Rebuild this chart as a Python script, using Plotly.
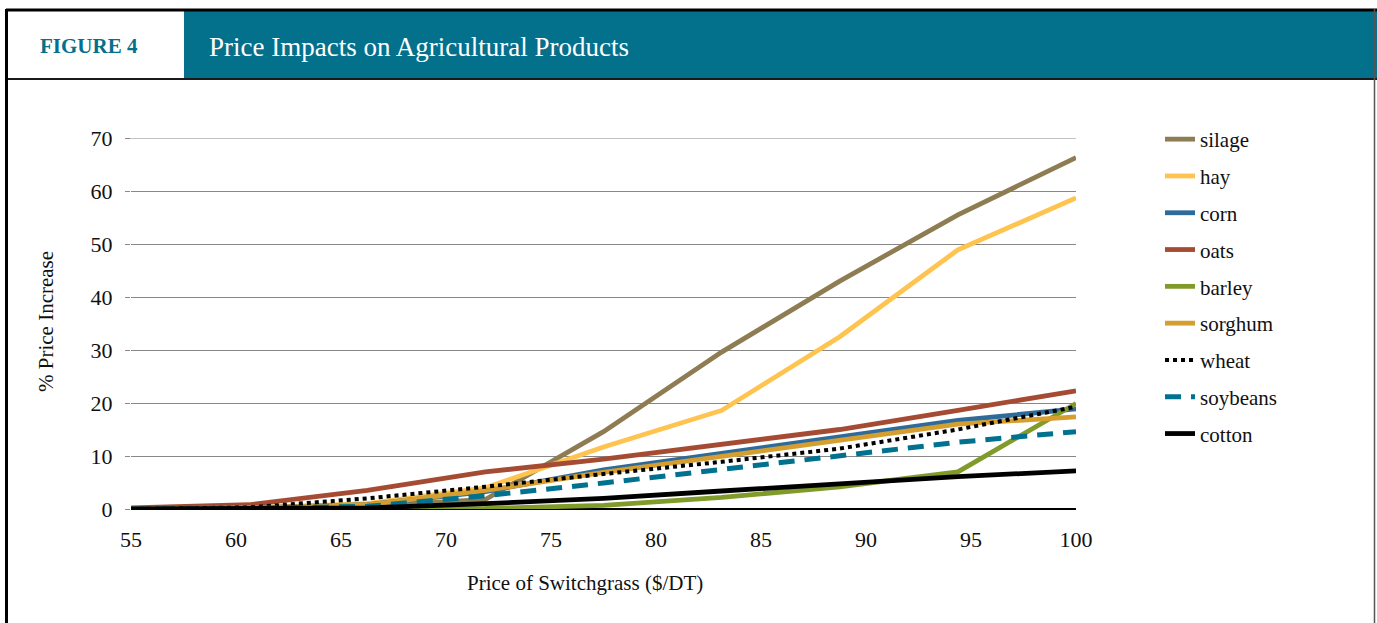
import plotly.graph_objects as go

# ---- data ----
switchgrass_price = [55, 60.625, 66.25, 71.875, 77.5, 83.125, 88.75, 94.375, 100]
silage   = [0.0, 0.3, 0.5, 1.8, 14.6, 29.6, 43.0, 55.5, 66.3]
hay      = [0.0, 0.2, 1.0, 4.0, 11.7, 18.6, 32.5, 48.9, 58.7]
corn     = [0.0, 0.2, 0.8, 3.3, 7.4, 10.4, 13.6, 16.7, 18.9]
oats     = [0.2, 0.8, 3.5, 7.0, 9.4, 12.2, 15.0, 18.6, 22.3]
barley   = [0.0, 0.0, 0.0, 0.1, 0.7, 2.2, 4.2, 7.0, 19.9]
sorghum  = [0.0, 0.2, 0.8, 3.5, 6.9, 9.9, 12.9, 16.0, 17.4]
wheat    = [0.0, 0.3, 2.0, 4.2, 6.6, 8.9, 11.4, 15.0, 19.3]
soybeans = [0.0, 0.1, 0.5, 2.5, 4.9, 7.4, 9.9, 12.6, 14.6]
cotton   = [0.0, 0.0, 0.2, 1.0, 2.0, 3.4, 4.8, 6.1, 7.2]

x_ticks = [55, 60, 65, 70, 75, 80, 85, 90, 95, 100]
y_ticks = [0, 10, 20, 30, 40, 50, 60, 70]

series = [
    ("silage", silage, "#8E7D52", "solid", 4.8),
    ("hay", hay, "#FFC44F", "solid", 4.8),
    ("corn", corn, "#2F6B9A", "solid", 4.8),
    ("oats", oats, "#A64B33", "solid", 4.8),
    ("barley", barley, "#809B2A", "solid", 4.8),
    ("sorghum", sorghum, "#D69E2E", "solid", 4.8),
    ("wheat", wheat, "#000000", "dot", 4),
    ("soybeans", soybeans, "#00718F", "16px,10px", 5),
    ("cotton", cotton, "#000000", "solid", 4.8),
]

FONT = "Liberation Serif"
W, H = 1377, 623
L, R, T, B = 131, 1076, 138, 509  # plot area pixels


def px(xp):
    return (xp - L) / (R - L)


def py(yp):
    return (B - yp) / (B - T)


fig = go.Figure()
for i, (name, vals, color, dash, w) in enumerate(series):
    fig.add_trace(go.Scatter(
        x=switchgrass_price, y=vals, mode="lines", name=name,
        legendgroup=f"g{i}",
        line=dict(color=color, width=w, dash=dash),
    ))

TEAL = "#03708C"
shapes = [
    dict(type="rect", xref="paper", yref="paper", x0=px(9), x1=px(184), y0=py(78), y1=py(11),
         fillcolor="white", line=dict(width=0), layer="below"),
    dict(type="rect", xref="paper", yref="paper", x0=px(184), x1=px(1377), y0=py(78), y1=py(11),
         fillcolor=TEAL, line=dict(width=0), layer="below"),
    dict(type="line", xref="paper", yref="paper", x0=px(7), x1=px(1377), y0=py(79), y1=py(79),
         line=dict(color="#1a1a1a", width=2)),
    dict(type="line", xref="paper", yref="paper", x0=px(6), x1=px(1377), y0=py(10), y1=py(10),
         line=dict(color="#000000", width=3)),
    dict(type="line", xref="paper", yref="paper", x0=px(6.5), x1=px(6.5), y0=py(9), y1=py(623),
         line=dict(color="#000000", width=3)),
    dict(type="line", xref="paper", yref="paper", x0=px(1374.5), x1=px(1374.5), y0=py(9), y1=py(623),
         line=dict(color="#555555", width=1.5)),
    # top gridline at 70 (sits on the range edge)
    dict(type="line", xref="paper", yref="y", x0=px(126), x1=1, y0=70, y1=70,
         line=dict(color="#888888", width=1), layer="below"),
]

annotations = [
    dict(text="<b>FIGURE 4</b>", xref="paper", yref="paper", x=px(89), y=py(46),
         xanchor="center", yanchor="middle", showarrow=False,
         font=dict(family=FONT, size=21, color=TEAL)),
    dict(text="Price Impacts on Agricultural Products", xref="paper", yref="paper",
         x=px(207), y=py(47), xanchor="left", yanchor="middle", showarrow=False,
         font=dict(family=FONT, size=27, color="white")),
    dict(text="Price of Switchgrass ($/DT)", xref="paper", yref="paper",
         x=px(585), y=py(583), xanchor="center", yanchor="middle", showarrow=False,
         font=dict(family=FONT, size=21, color="#111111")),
    dict(text="% Price Increase", xref="paper", yref="paper",
         x=px(46), y=py(322), xanchor="center", yanchor="middle", showarrow=False,
         textangle=-90, font=dict(family=FONT, size=21, color="#111111")),
]

fig.update_layout(
    width=W, height=H,
    margin=dict(l=L, r=W - R, t=T, b=H - B, pad=0),
    paper_bgcolor="white", plot_bgcolor="white",
    font=dict(family=FONT, size=21, color="#111111"),
    showlegend=True,
    legend=dict(x=px(1160), y=py(119), xanchor="left", yanchor="top",
                font=dict(family=FONT, size=21, color="#111111"),
                tracegroupgap=6.5, bgcolor="rgba(0,0,0,0)", maxheight=600),
    xaxis=dict(range=[55, 100], tickvals=x_ticks, ticktext=[str(v) for v in x_ticks],
               showgrid=False, zeroline=False, showline=False,
               ticks="outside", ticklen=11, tickcolor="rgba(0,0,0,0)",
               tickfont=dict(family=FONT, size=22, color="#111111")),
    yaxis=dict(range=[0, 70], tickvals=y_ticks, showgrid=True, gridcolor="#888888",
               gridwidth=1, zeroline=True, zerolinecolor="#000000", zerolinewidth=1.5,
               showline=False, ticks="outside", ticklen=5, tickcolor="#888888",
               ticklabelstandoff=8,
               tickfont=dict(family=FONT, size=22, color="#111111")),
    shapes=shapes, annotations=annotations,
)

fig.write_html("out.html")
